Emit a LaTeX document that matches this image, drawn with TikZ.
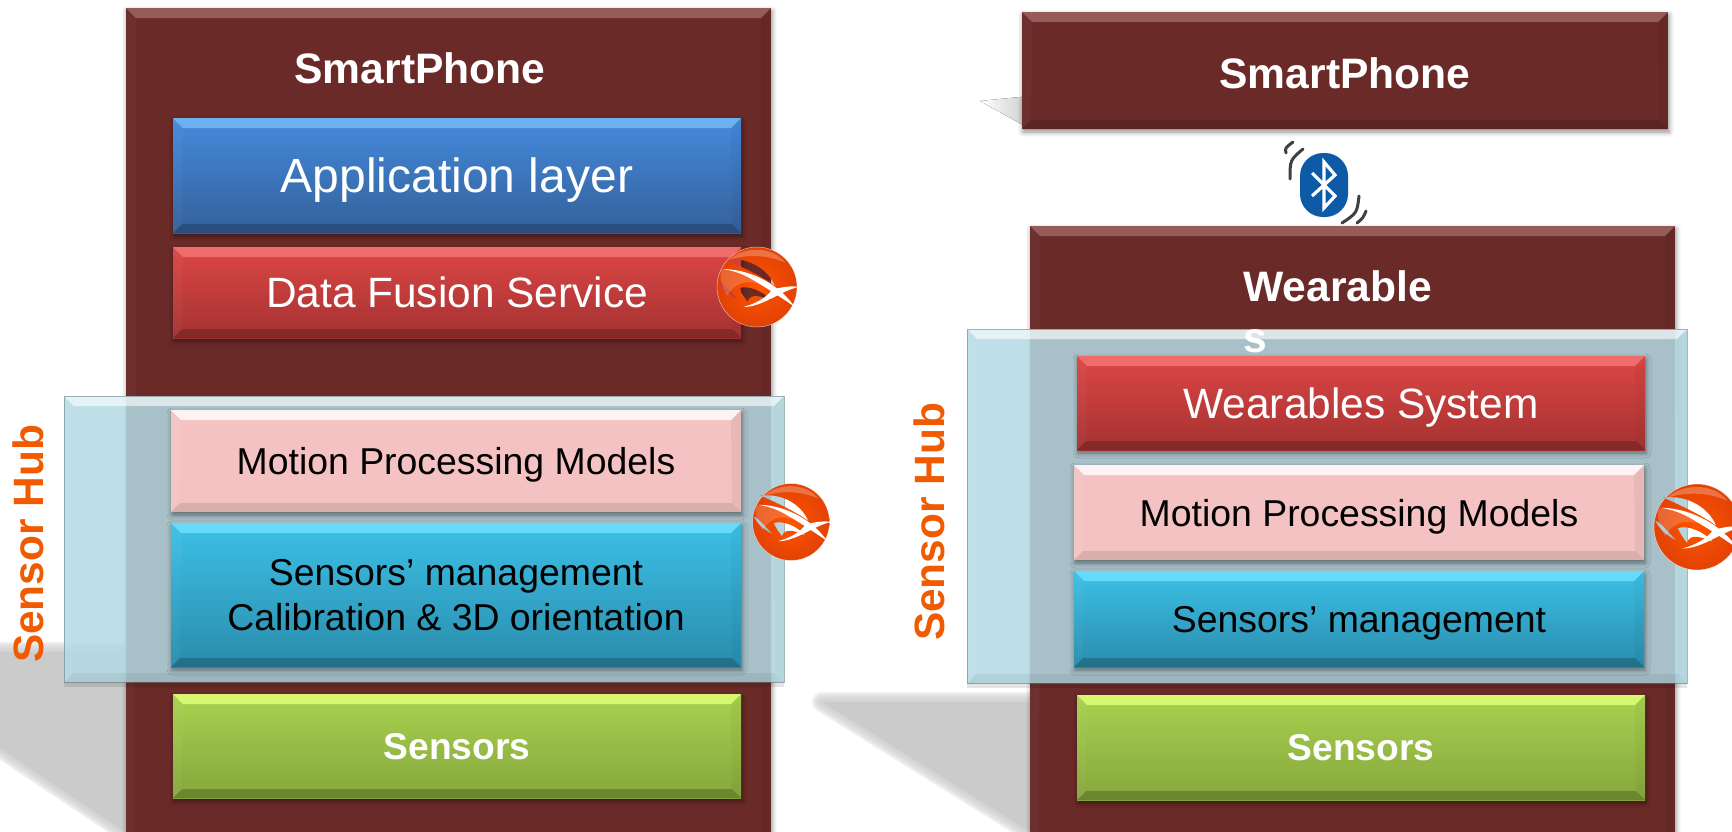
\documentclass[tikz,border=0pt]{standalone}
\usepackage{fontspec}
\setmainfont{Liberation Sans}
\usetikzlibrary{calc,shadows.blur}
\definecolor{panelbrown}{HTML}{6A2A28}
\definecolor{hubblue}{HTML}{B3DAE4}
\definecolor{huborange}{HTML}{F05A00}
\definecolor{shadowgray}{HTML}{CBCBCB}
\definecolor{btblue}{HTML}{0D5BA6}
\definecolor{bluetop}{HTML}{6DB0F0}
\definecolor{redtop}{HTML}{EE6C6C}
\definecolor{pinktop}{HTML}{FFF2F2}
\definecolor{cyantop}{HTML}{66DAFA}
\definecolor{greentop}{HTML}{D6F870}
\definecolor{browntop}{HTML}{965C5A}
\tikzset{
  extent/.style n args={4}{minimum width={(#3-#1)*.5pt},minimum height={(#4-#2)*.5pt},at={({(#1+#3)/2},{(#2+#4)/2})}},
  corners/.style n args={3}{path picture={
    \coordinate (nw) at (path picture bounding box.north west);
    \coordinate (se) at (path picture bounding box.south east);
    \coordinate (ne) at (path picture bounding box.north east);
    \coordinate (sw) at (path picture bounding box.south west);
    \fill[#1] (nw) -- (ne) -- ($(ne)+(-5pt,-5pt)$) -- ($(nw)+(5pt,-5pt)$) -- cycle;
    \fill[black,opacity=#2] (sw) -- (se) -- ($(se)+(-4.5pt,4.5pt)$) -- ($(sw)+(4.5pt,4.5pt)$) -- cycle;
    \fill[white,opacity=#3] (nw) -- (sw) -- ($(sw)+(4.5pt,4.5pt)$) -- ($(nw)+(5pt,-5pt)$) -- cycle;
    \fill[black,opacity=#3] (ne) -- (se) -- ($(se)+(-4.5pt,4.5pt)$) -- ($(ne)+(-5pt,-5pt)$) -- cycle;
  }},
  softedge/.style={blur shadow={shadow xshift=0.5pt,shadow yshift=-1.5pt,shadow blur radius=2.5pt,shadow opacity=45}},
  layer/.style={rectangle,inner sep=0pt,outer sep=0pt,align=center,text depth=0pt,softedge},
  panel/.style={layer,fill=panelbrown,corners={browntop}{.12}{.03},text=white},
  bluebox/.style={layer,top color={rgb,255:red,68;green,138;blue,220},bottom color={rgb,255:red,52;green,96;blue,154},corners={bluetop}{.2}{.03},text=white,font=\fontsize{24}{28}\selectfont},
  redbox/.style={layer,top color={rgb,255:red,220;green,70;blue,68},bottom color={rgb,255:red,164;green,50;blue,50},corners={redtop}{.2}{.03},text=white,font=\fontsize{21.2}{25}\selectfont},
  pinkbox/.style={layer,fill={rgb,255:red,244;green,194;blue,194},corners={pinktop}{.1}{.05},text=black,font=\fontsize{18.7}{22}\selectfont},
  cyanbox/.style={layer,top color={rgb,255:red,60;green,192;blue,230},bottom color={rgb,255:red,42;green,140;blue,172},corners={cyantop}{.2}{.03},text=black,font=\fontsize{18.7}{22.6}\selectfont},
  greenbox/.style={layer,top color={rgb,255:red,168;green,210;blue,80},bottom color={rgb,255:red,134;green,166;blue,60},corners={greentop}{.2}{.03},text=white,font=\bfseries\fontsize{18.6}{22}\selectfont},
  hub/.style={rectangle,inner sep=0pt,outer sep=0pt,fill=hubblue,fill opacity=.86,draw=hubblue!60!black,draw opacity=.6,line width=.5pt,corners={white,opacity=.6}{.06}{.04}},
  hublabel/.style={rotate=90,text=huborange,font=\bfseries\fontsize{21.2}{24}\selectfont},
  title/.style={text=white,font=\bfseries\fontsize{21.3}{25}\selectfont},
  waveline/.style={black!75,line width=1.5pt,line cap=round}
}
% soft grey wedge behind a panel
\newcommand{\floorwedge}[1]{
  \foreach \w in {20,16,12,8,4}
    \draw[shadowgray,opacity=.3,line width=\w*.5pt,line join=round] #1 -- cycle;
  \fill[shadowgray] #1 -- cycle;
}
% orange logo ball
\newcommand{\fusionball}[4]{
  \coordinate (#1) at (#2,#3);
  \begin{scope}[shift={(#2,#3)},scale=#4/38]
    \path[even odd rule,inner color={rgb,255:red,255;green,84;blue,0},outer color={rgb,255:red,226;green,66;blue,6}]
      (0,0) circle (38)
      (-30,-26) .. controls (-5,-29) and (12,-14) .. (17,-1) .. controls (5,-10) and (-12,-18) .. cycle
      (-37,-6) .. controls (-34,2) and (-26,8) .. (-18,12) .. controls (-26,4) and (-31,-3) .. cycle
      (-17,1) .. controls (-8,-2) and (6,4) .. (14,13) .. controls (2,8) and (-6,6) .. (-9,14) .. controls (-12,10) and (-15,6) .. cycle;
    \fill[white,opacity=.25] (-26,-26) .. controls (-14,-38) and (14,-40) .. (27,-23) .. controls (10,-31) and (-10,-31) .. cycle;
    \fill[white,opacity=.18] (-34,-16) .. controls (-12,-19) and (2,-8) .. (8,0) .. controls (-6,-8) and (-20,-6) .. (-28,8) .. controls (-33,0) and (-36,-8) .. cycle;
    \fill[white] (-13,19) .. controls (5,19) and (22,4) .. (39,0) .. controls (36,-1) and (25,-1) .. (14,3) .. controls (8,11) and (-2,16) .. cycle;
    \fill[white] (-33,-17) .. controls (-10,-17) and (18,-6) .. (36,19) .. controls (26,12) and (8,0) .. (-6,-8) .. controls (-15,-13) and (-24,-16) .. cycle;
    \draw[white,opacity=.6,line width=.25pt] (0,0) circle (38);
  \end{scope}
}
\begin{document}
\begin{tikzpicture}[x=.5pt,y=-.5pt]
\useasboundingbox (0,0) rectangle (1732,831);
% floor shadows
\floorwedge{(-30,652) -- (130,652) -- (130,835) -- (0,748)}
\floorwedge{(822,702) -- (1035,702) -- (1035,835)}
\fill[left color=white,right color=shadowgray] (980,101) -- (1030,96) -- (1030,129) -- cycle;
% left stack
\node[panel,extent={126}{8}{771}{870}] (phoneleft) {};
\node[title] (phoneleftname) at (420,68) {SmartPhone};
\node[hub,extent={64}{396}{784}{682}] (hubleft) {};
\fill[black,opacity=.1] (hubleft.south west) -- (hubleft.south east) -- ++(0,5) -- ($(hubleft.south west)+(0,5)$) -- cycle;
\node[hublabel] (hubleftname) at (28,544) {Sensor Hub};
\node[bluebox,extent={173}{118}{741}{233}] (applayer) {Application layer};
\node[redbox,extent={173}{247}{741}{338}] (fusion) {Data Fusion Service};
\node[pinkbox,extent={171}{410}{741}{512}] (motionleft) {Motion Processing Models};
\node[cyanbox,extent={171}{523}{741}{667}] (mgmtleft) {Sensors’ management\\Calibration \& 3D orientation};
\node[greenbox,extent={173}{694}{741}{798}] (sensorsleft) {Sensors};
% right stack
\node[panel,extent={1022}{12}{1668}{129}] (phoneright) {};
\node[title] (phonerightname) at (1345,73) {SmartPhone};
\node[panel,extent={1030}{226}{1675}{870}] (wear) {};
\node[hub,extent={967}{329}{1687}{683}] (hubright) {};
\fill[black,opacity=.1] (hubright.south west) -- (hubright.south east) -- ++(0,5) -- ($(hubright.south west)+(0,5)$) -- cycle;
\node[title,align=left,anchor=north west,inner sep=0pt] (wearname) at (1243,270) {Wearable\\[.5pt]s};
\node[hublabel] (hubrightname) at (929,522) {Sensor Hub};
\node[redbox,extent={1077}{356}{1645}{450}] (wearsys) {Wearables System};
\node[pinkbox,extent={1074}{465}{1644}{560}] (motionright) {Motion Processing Models};
\node[cyanbox,extent={1074}{571}{1644}{667}] (mgmtright) {Sensors’ management};
\node[greenbox,extent={1077}{695}{1645}{800}] (sensorsright) {Sensors};
% logos
\fusionball{ballfusion}{757}{287}{40}
\fusionball{ballhubleft}{791}{522}{38.5}
\fusionball{ballhubright}{1697}{527}{43}
% bluetooth
\node[rectangle,rounded corners=11.5pt,fill=btblue,minimum width=24pt,minimum height=32pt,inner sep=0pt] (bt) at (1324,185) {};
\draw[white,line width=1.6pt,line join=miter] (1312,173) -- (1335,196) -- (1324,208) -- (1324,162) -- (1335,175) -- (1312,196);
\draw[waveline] (1303,149) .. controls (1290,160) .. (1290,179);
\draw[waveline] (1293,142) .. controls (1285,148) .. (1286,153);
\draw[waveline] (1359,196) .. controls (1357,213) .. (1342,223);
\draw[waveline] (1366,211) .. controls (1363,218) .. (1357,223);
\end{tikzpicture}
\end{document}
